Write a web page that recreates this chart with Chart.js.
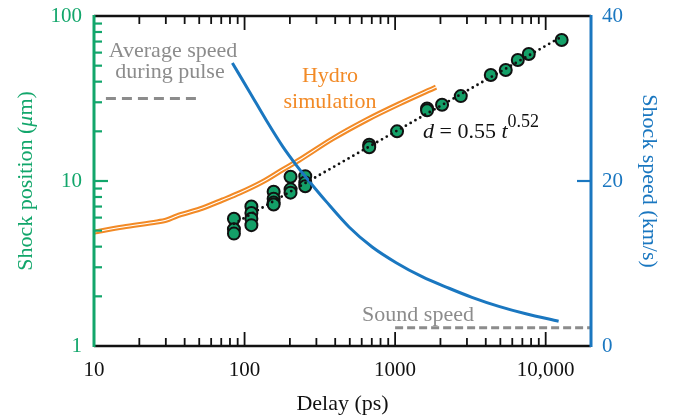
<!DOCTYPE html>
<html>
<head>
<meta charset="utf-8">
<script src="https://cdn.jsdelivr.net/npm/chart.js@4.4.1/dist/chart.umd.min.js"></script>
<style>
  html, body { margin: 0; padding: 0; background: #fff; }
  canvas { display: block; }
</style>
</head>
<body>
<canvas id="shockChart" width="674" height="418"></canvas>
<script>
// -------- data --------
const xMajor = [10, 100, 1000, 10000];
const xLabels = ['10', '100', '1000', '10,000'];
const yLeftMajor = [1, 10, 100];
const yLeftLabels = ['1', '10', '100'];
const yRightMajor = [0, 20, 40];

// measured shock position (um) vs delay (ps)
const ptDelay = [85, 85, 85, 111, 111, 111, 111, 156, 156, 156, 156, 202, 202, 202, 253, 253, 253,
                 673, 673, 1030, 1630, 1630, 2050, 2730, 4320, 5430, 6530, 7720, 12770];
const ptPos   = [5.9, 5.1, 4.8, 7.0, 6.4, 5.9, 5.4, 8.6, 7.8, 7.4, 7.2, 10.6, 8.9, 8.5, 10.7, 9.8, 9.3,
                 16.6, 16.0, 20.0, 27.5, 26.8, 29.0, 32.7, 43.9, 47.1, 54.1, 58.9, 71.6];

// power-law fit d = 0.55 t^0.52 (end points)
const fitDelay = [85, 12800];
const fitPos   = [5.5, 75];

// hydro simulation (um)
const hydroDelay = [10, 15.6, 26.1, 30.4, 35.5, 50.4, 71.5, 92.7, 131, 179, 231, 383, 643, 1062, 1870];
const hydroPos   = [4.9, 5.26, 5.64, 5.8, 6.14, 6.76, 7.67, 8.46, 9.86, 11.7, 13.4, 18.0, 23.4, 29.3, 37.1];

// shock speed (km/s)
const speedDelay = [83, 108, 140, 179, 221, 257, 349, 496, 704, 1016, 1510, 2280, 3237, 4887, 7380, 12190];
const speedVal   = [34.3, 30.8, 27.3, 24.2, 21.9, 20.4, 17.5, 14.4, 12.0, 10.1, 8.4, 7.0, 5.9, 4.8, 3.9, 3.0];

// reference speeds (km/s)
const pulseDelay = [12, 50];
const pulseSpeed = [30, 30];
const soundDelay = [1000, 20000];
const soundSpeed = [2.2, 2.2];

const GREEN = '#12a66b', BLUE = '#1a77c0', ORANGE = '#f28a26', GRAY = '#8c8c8c';
const FONT = '"Liberation Serif", "DejaVu Serif", serif';

const pts = (xs, ys) => xs.map((x, i) => ({x, y: ys[i]}));

function line(ctx, x1, y1, x2, y2) {
  ctx.beginPath(); ctx.moveTo(x1, y1); ctx.lineTo(x2, y2); ctx.stroke();
}

// draw a row of [text, italic, size, dy] pieces starting at x
function drawRuns(ctx, runs, x, y, align) {
  const widths = runs.map(r => { ctx.font = (r[1] ? 'italic ' : '') + r[2] + 'px ' + FONT; return ctx.measureText(r[0]).width; });
  const total = widths.reduce((a, b) => a + b, 0);
  let cx = align === 'center' ? x - total / 2 : x;
  runs.forEach((r, i) => {
    ctx.font = (r[1] ? 'italic ' : '') + r[2] + 'px ' + FONT;
    ctx.fillText(r[0], cx, y + (r[3] || 0));
    cx += widths[i];
  });
}

// no extra label padding, so the plot box sits where the figure has it
const noPad = s => { s.paddingTop = 0; s.paddingBottom = 0; s.paddingLeft = 0; s.paddingRight = 0; };

// -------- frame, inward ticks, titles, notes --------
const framePlugin = {
  id: 'frame',
  afterDatasetsDraw(chart) {
    const {ctx, chartArea: a, scales} = chart;
    const xs = scales.x, yl = scales.y, yr = scales.y2;
    ctx.save();
    ctx.lineCap = 'butt';

    // x ticks top + bottom
    ctx.strokeStyle = '#111';
    ctx.lineWidth = 1.8;
    xMajor.forEach(dec => {
      for (let k = 1; k <= 9; k++) {
        const v = dec * k;
        if (v <= xs.min || v >= xs.max) continue;
        const px = xs.getPixelForValue(v);
        const len = k === 1 ? 14 : 8;
        line(ctx, px, a.bottom, px, a.bottom - len);
        line(ctx, px, a.top, px, a.top + len);
      }
    });
    ctx.lineWidth = 2.5;
    line(ctx, a.left, a.bottom, a.right, a.bottom);
    line(ctx, a.left, a.top, a.right, a.top);

    // left ticks
    ctx.strokeStyle = GREEN;
    ctx.lineWidth = 2.2;
    [1, 10].forEach(dec => {
      for (let k = 1; k <= 9; k++) {
        const v = dec * k;
        if (v <= yl.min || v >= yl.max) continue;
        const py = yl.getPixelForValue(v);
        line(ctx, a.left, py, a.left + (k === 1 ? 14 : 8), py);
      }
    });
    ctx.lineWidth = 3;
    line(ctx, a.left, a.top - 1, a.left, a.bottom + 1);

    // right ticks
    ctx.strokeStyle = BLUE;
    ctx.lineWidth = 2.2;
    yRightMajor.forEach(v => {
      if (v <= yr.min || v >= yr.max) return;
      const py = yr.getPixelForValue(v);
      line(ctx, a.right, py, a.right - 14, py);
    });
    ctx.lineWidth = 3;
    line(ctx, a.right, a.top - 1, a.right, a.bottom + 1);
    ctx.restore();
  },
  afterDraw(chart) {
    const {ctx, chartArea: a} = chart;
    ctx.save();
    ctx.textBaseline = 'alphabetic';
    ctx.textAlign = 'left';

    // axis titles
    ctx.fillStyle = '#111';
    drawRuns(ctx, [['Delay (ps)', false, 22]], (a.left + a.right) / 2, 410, 'center');

    ctx.save();
    ctx.translate(32, (a.top + a.bottom) / 2);
    ctx.rotate(-Math.PI / 2);
    ctx.fillStyle = GREEN;
    drawRuns(ctx, [['Shock position (', false, 22], ['\u03bc', true, 22], ['m)', false, 22]], 0, 0, 'center');
    ctx.restore();

    ctx.save();
    ctx.translate(643, (a.top + a.bottom) / 2);
    ctx.rotate(Math.PI / 2);
    ctx.fillStyle = BLUE;
    drawRuns(ctx, [['Shock speed (km/s)', false, 22]], 0, 0, 'center');
    ctx.restore();

    // notes
    ctx.fillStyle = GRAY;
    drawRuns(ctx, [['Average speed', false, 22]], 173, 57, 'center');
    drawRuns(ctx, [['during pulse', false, 22]], 170, 78, 'center');
    drawRuns(ctx, [['Sound speed', false, 22]], 418, 321, 'center');

    ctx.fillStyle = ORANGE;
    drawRuns(ctx, [['Hydro', false, 22]], 330, 82, 'center');
    drawRuns(ctx, [['simulation', false, 22]], 330, 108, 'center');

    ctx.fillStyle = '#111';
    drawRuns(ctx, [['d', true, 22], [' = 0.55 ', false, 22], ['t', true, 22], ['0.52', false, 18, -11]], 423, 138, 'left');
    ctx.restore();
  }
};

const ctx = document.getElementById('shockChart').getContext('2d');
const shockChart = new Chart(ctx, {
  type: 'scatter',
  data: {
    datasets: [
      {
        label: 'fit',
        type: 'line',
        data: pts(fitDelay, fitPos),
        yAxisID: 'y',
        borderColor: '#111',
        borderWidth: 2.8,
        borderDash: [0, 5.5],
        borderCapStyle: 'round',
        pointRadius: 0,
        order: 0
      },
      {
        label: 'Shock speed',
        type: 'line',
        data: pts(speedDelay, speedVal),
        yAxisID: 'y2',
        borderColor: BLUE,
        borderWidth: 3,
        cubicInterpolationMode: 'monotone',
        pointRadius: 0,
        order: 1
      },
      {
        label: 'Shock position',
        data: pts(ptDelay, ptPos),
        yAxisID: 'y',
        backgroundColor: '#14a068',
        borderColor: '#111',
        borderWidth: 2,
        pointRadius: 6,
        order: 2
      },
      {
        label: 'hydro inner',
        type: 'line',
        data: pts(hydroDelay, hydroPos),
        yAxisID: 'y',
        borderColor: '#fff',
        borderWidth: 1.1,
        tension: 0.3,
        pointRadius: 0,
        order: 3
      },
      {
        label: 'Hydro simulation',
        type: 'line',
        data: pts(hydroDelay, hydroPos),
        yAxisID: 'y',
        borderColor: ORANGE,
        borderWidth: 5.2,
        tension: 0.3,
        pointRadius: 0,
        order: 4
      },
      {
        label: 'Average speed during pulse',
        type: 'line',
        data: pts(pulseDelay, pulseSpeed),
        yAxisID: 'y2',
        borderColor: GRAY,
        borderWidth: 3,
        borderDash: [10, 6],
        pointRadius: 0,
        order: 5
      },
      {
        label: 'Sound speed',
        type: 'line',
        data: pts(soundDelay, soundSpeed),
        yAxisID: 'y2',
        borderColor: GRAY,
        borderWidth: 3,
        borderDash: [8, 4],
        pointRadius: 0,
        order: 5
      }
    ]
  },
  options: {
    responsive: false,
    animation: false,
    layout: { padding: { top: 16, left: 0, right: 0, bottom: 0 } },
    plugins: { legend: { display: false }, tooltip: { enabled: false } },
    scales: {
      x: {
        type: 'logarithmic',
        position: 'bottom',
        min: 10,
        max: 20000,
        grid: { display: false, drawTicks: false },
        border: { display: false },
        afterFit: s => { s.height = 72; noPad(s); },
        afterBuildTicks: s => { s.ticks = xMajor.map(v => ({ value: v })); },
        ticks: {
          autoSkip: false,
          maxRotation: 0,
          padding: 12,
          color: '#111',
          font: { family: FONT, size: 21 },
          callback: v => xLabels[xMajor.indexOf(v)] ?? ''
        }
      },
      y: {
        type: 'logarithmic',
        position: 'left',
        min: 1,
        max: 100,
        grid: { display: false, drawTicks: false },
        border: { display: false },
        afterFit: s => { s.width = 94; noPad(s); },
        afterBuildTicks: s => { s.ticks = yLeftMajor.map(v => ({ value: v })); },
        ticks: {
          autoSkip: false,
          padding: 12,
          color: GREEN,
          font: { family: FONT, size: 21 },
          callback: v => yLeftLabels[yLeftMajor.indexOf(v)] ?? ''
        }
      },
      y2: {
        type: 'linear',
        position: 'right',
        min: 0,
        max: 40,
        grid: { display: false, drawTicks: false },
        border: { display: false },
        afterFit: s => { s.width = 83; noPad(s); },
        afterBuildTicks: s => { s.ticks = yRightMajor.map(v => ({ value: v })); },
        ticks: {
          autoSkip: false,
          padding: 11,
          color: BLUE,
          font: { family: FONT, size: 21 }
        }
      }
    }
  },
  plugins: [framePlugin]
});
</script>
</body>
</html>
